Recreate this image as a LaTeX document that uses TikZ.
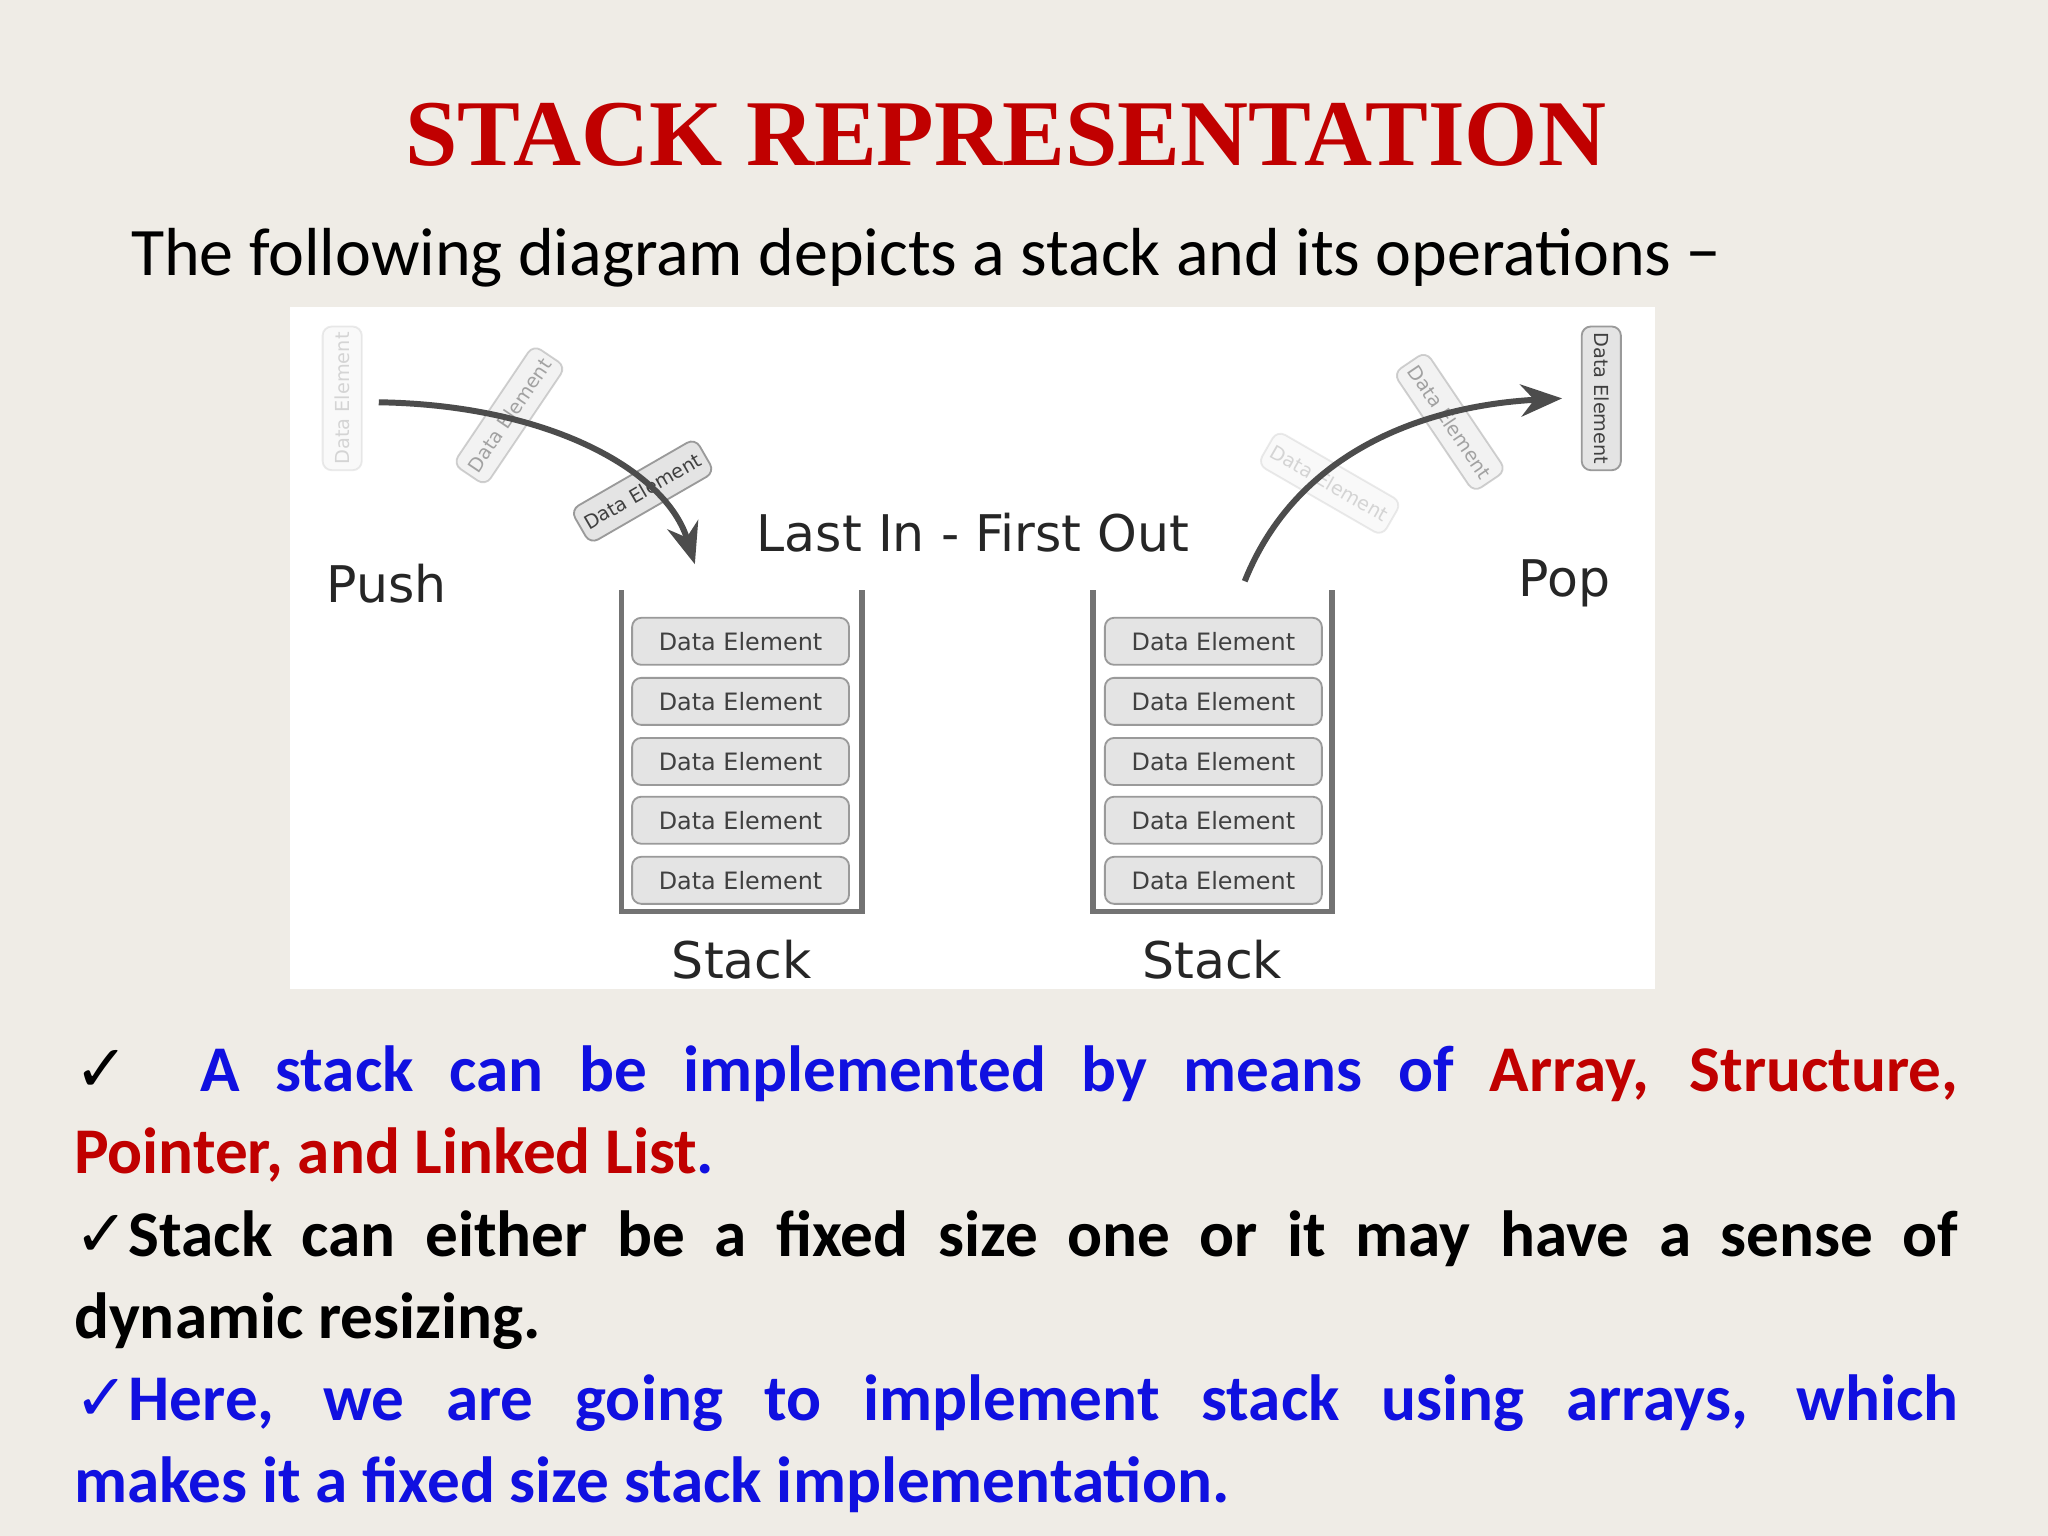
\documentclass[tikz,border=0pt]{standalone}
\usepackage{fontspec}
\setmainfont{Carlito}
\newfontfamily\dv{DejaVu Sans}
\newfontfamily\ttl{Liberation Serif}
\usetikzlibrary{arrows.meta}
\definecolor{bg}{HTML}{EFECE6}
\definecolor{tred}{HTML}{C00000}
\definecolor{tblue}{HTML}{1010E0}
\definecolor{boxf}{HTML}{E4E4E4}
\definecolor{boxd}{HTML}{9A9A9A}
\tikzset{
 P/.style={x=0.01cm,y=-0.01cm},
 de/.style={draw=boxd,fill=boxf,rounded corners=2pt,minimum width=1.66cm,minimum height=0.36cm,inner sep=0pt,font=\dv\fontsize{5.2}{6}\selectfont,text=black!75},
 rde/.style={de,minimum width=1.1cm,minimum height=0.3cm,font=\dv\fontsize{4.2}{5}\selectfont},
 lbl/.style={font=\dv\fontsize{11}{13}\selectfont,text=black!85},
 wall/.style={draw=black!55,line width=1.2pt},
 arr/.style={draw=black!70,line width=1.3pt,-{Stealth[length=9pt,width=7pt]}}
}
\begin{document}
\begin{tikzpicture}[P]
\fill[bg] (0,0) rectangle (1568,1176);
\useasboundingbox (0,0) rectangle (1568,1176);
\node[font=\ttl\bfseries\fontsize{20.5}{23}\selectfont,text=tred] (title) at (770,103) {STACK REPRESENTATION};
\node[anchor=west,font=\fontsize{14.8}{17}\selectfont] (sub) at (88,197) {The following diagram depicts a stack and its operations −};
\fill[white] (222,235) rectangle (1267,757);
% stacks
\draw[wall] (476,452) -- (476,698) -- (660,698) -- (660,452);
\draw[wall] (837,452) -- (837,698) -- (1020,698) -- (1020,452);
\foreach \y [count=\i] in {491,537,583,628,674}{
 \node[de] (l\i) at (567,\y) {Data Element};
 \node[de] (r\i) at (929,\y) {Data Element};
}
% faded / rotated elements
\node[rde,opacity=0.2,rotate=90] (p1) at (262,305) {Data Element};
\node[rde,opacity=0.45,rotate=56] (p2) at (390,318) {Data Element};
\node[rde,rotate=30] (p3) at (492,376) {Data Element};
\node[rde,opacity=0.2,rotate=-30] (q1) at (1018,370) {Data Element};
\node[rde,opacity=0.45,rotate=-56] (q2) at (1110,323) {Data Element};
\node[rde,rotate=-90] (q3) at (1226,305) {Data Element};
\coordinate (ps) at (290,308);
\coordinate (pe) at (532,432);
\coordinate (qs) at (953,445);
\coordinate (qe) at (1196,305);
\draw[arr] (ps) .. controls (420,310) and (510,360) .. (pe);
\draw[arr] (qs) .. controls (995,340) and (1100,310) .. (qe);
\node[lbl] (push) at (296,447) {Push};
\node[lbl] (pop) at (1198,447) {Pop};
\node[lbl] (lifo) at (745,408) {Last In - First Out};
\node[lbl] (s1) at (568,735) {Stack};
\node[lbl] (s2) at (928,735) {Stack};
% bullets
\node[anchor=north west,text width=14.42cm,align=justify,inner sep=0pt,font=\bfseries\fontsize{14.2}{17.9}\selectfont] (txt) at (56,800) {\hyphenpenalty=10000%
{\dv\mdseries ✓}\ \ \textcolor{tblue}{A stack can be implemented by means of} \textcolor{tred}{Array, Structure,}\linebreak\textcolor{tred}{Pointer, and Linked List}\textcolor{tblue}{.}\\
{\dv\mdseries ✓}Stack can either be a fixed size one or it may have a sense of\linebreak dynamic resizing.\\
\textcolor{tblue}{{\dv\mdseries ✓}Here, we are going to implement stack using arrays, which\linebreak makes it a fixed size stack implementation.}};
\end{tikzpicture}
\end{document}
